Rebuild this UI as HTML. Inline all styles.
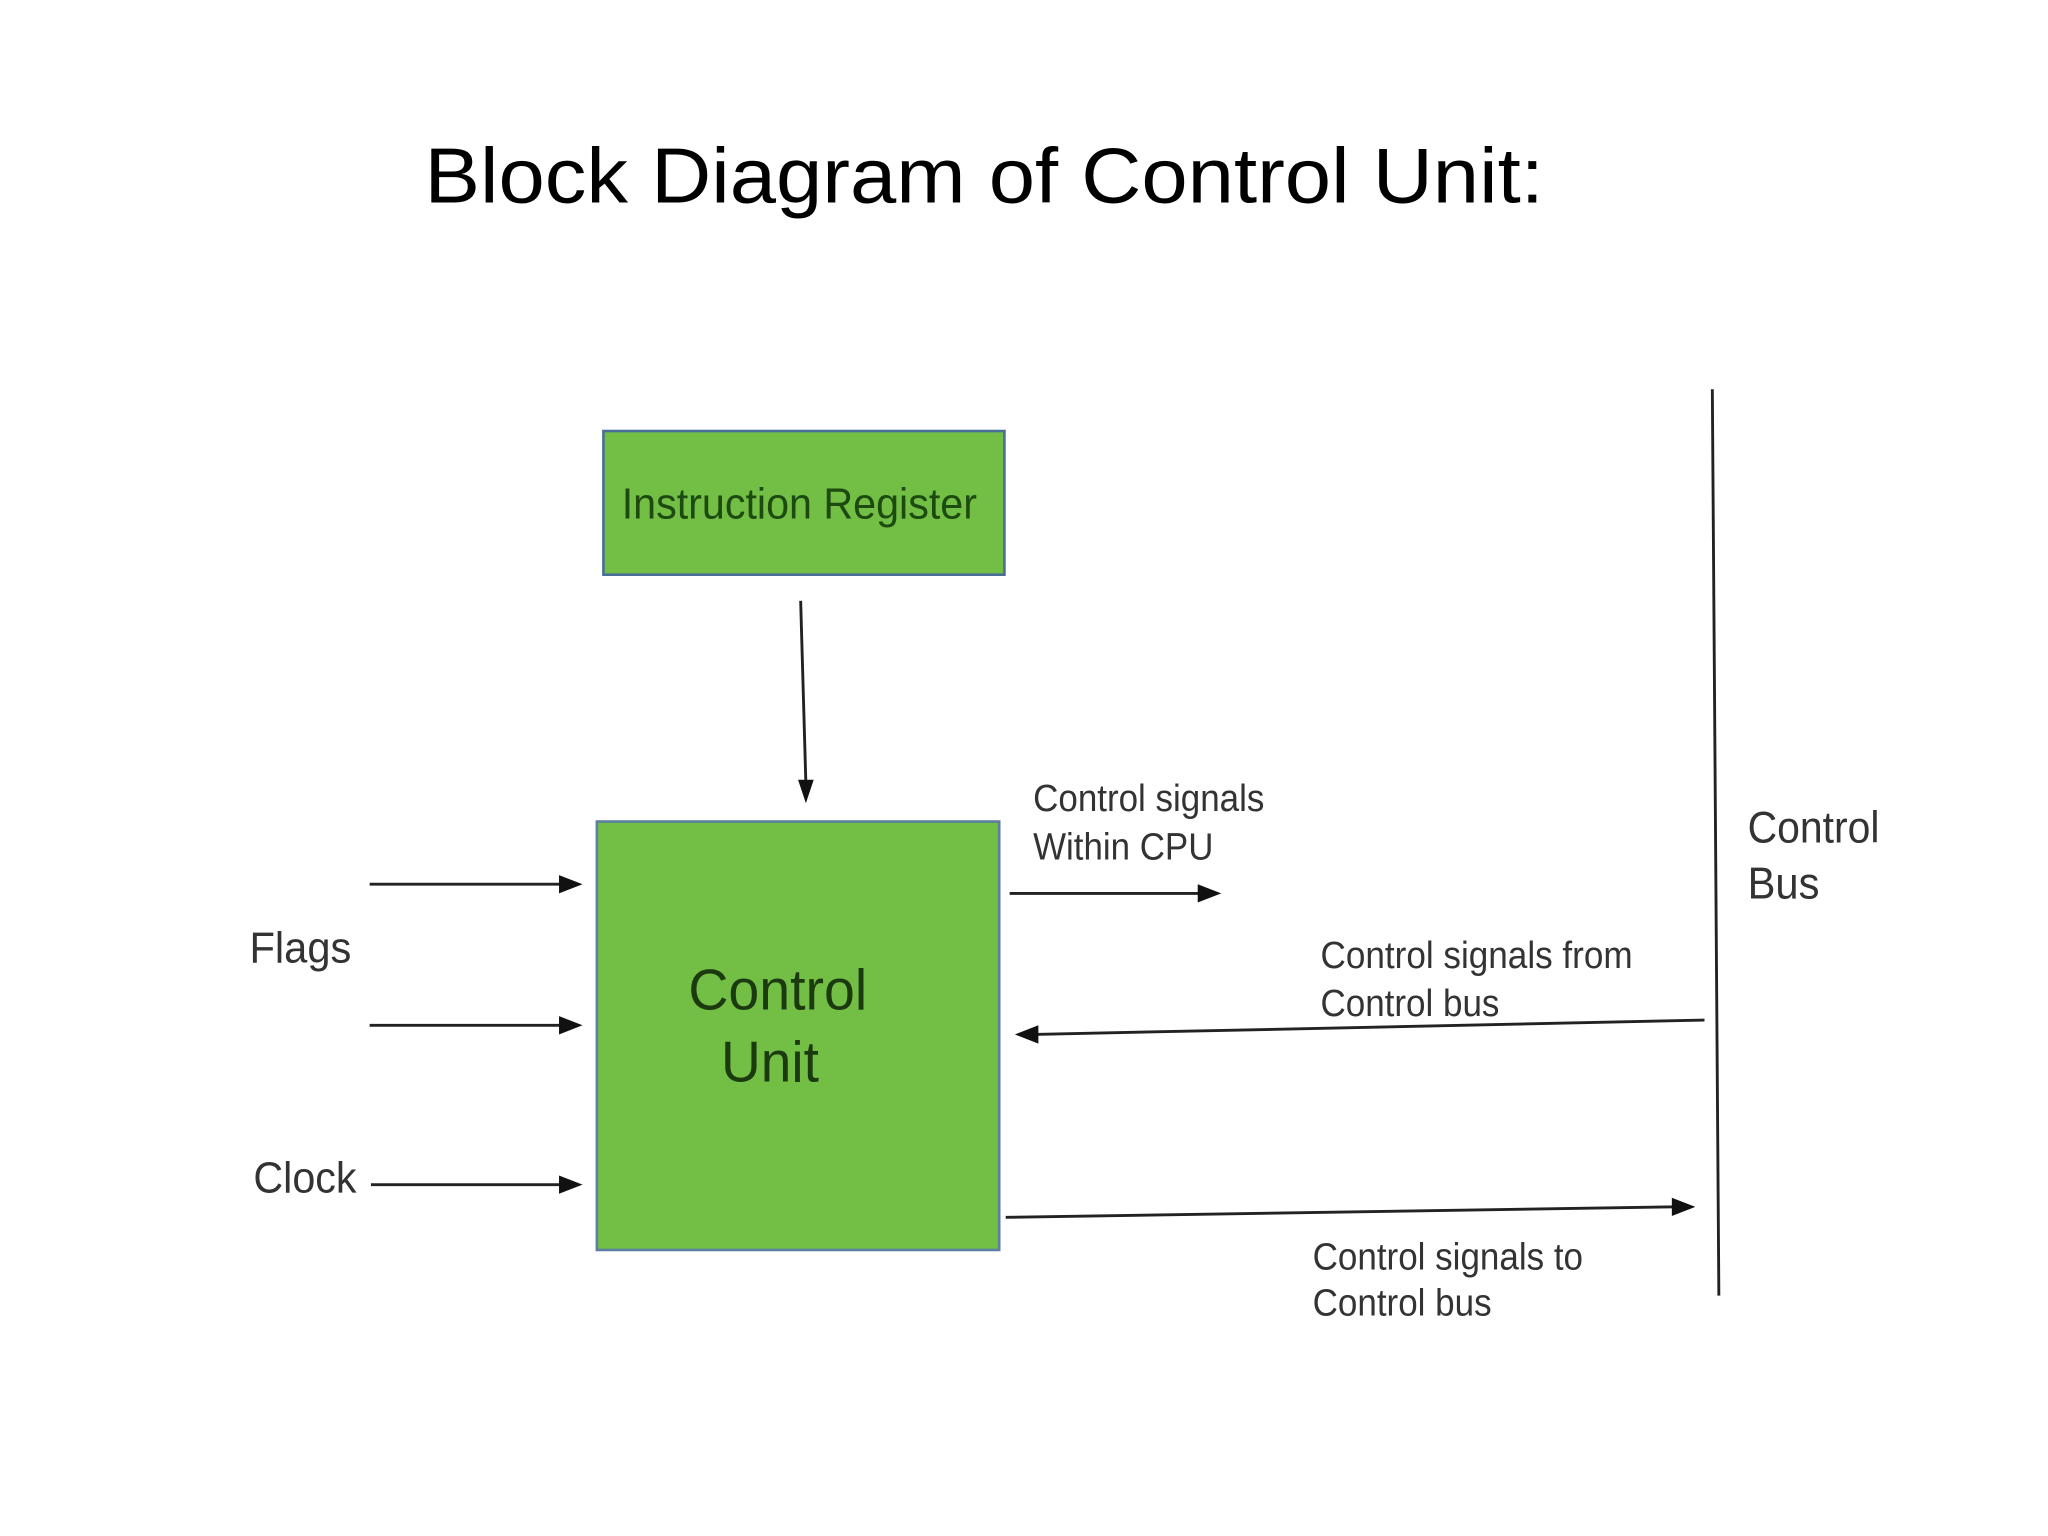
<!DOCTYPE html>
<html><head><meta charset="utf-8"><style>
html,body{margin:0;padding:0;background:#fff;width:2048px;height:1536px;overflow:hidden}
svg{display:block}
text{font-family:"Liberation Sans",sans-serif}
</style></head><body>
<svg width="2048" height="1536" viewBox="0 0 1568 1176" preserveAspectRatio="none" xmlns="http://www.w3.org/2000/svg">
<defs>
<marker id="a" viewBox="0 0 10 10" refX="9" refY="5" markerWidth="6" markerHeight="6" markerUnits="userSpaceOnUse" orient="auto">
</marker>
</defs>
<rect width="1568" height="1176" fill="#fff"/>
<text x="325" y="155" font-size="60" fill="#000" textLength="857" lengthAdjust="spacingAndGlyphs">Block Diagram of Control Unit:</text>

<rect x="462" y="330" width="307" height="110" fill="#73be44" stroke="#4a6f96" stroke-width="2"/>
<text x="476" y="397" font-size="33" fill="#1c4a10" textLength="272" lengthAdjust="spacingAndGlyphs">Instruction Register</text>

<rect x="457" y="629" width="308" height="328" fill="#73be44" stroke="#5a7fa0" stroke-width="2"/>
<text x="527" y="773" font-size="44" fill="#1c3a10" textLength="137" lengthAdjust="spacingAndGlyphs">Control</text>
<text x="552" y="828" font-size="44" fill="#1c3a10" textLength="75" lengthAdjust="spacingAndGlyphs">Unit</text>

<g stroke="#222" stroke-width="2.2" fill="none">
<line x1="613" y1="460" x2="617" y2="600"/>
<line x1="283" y1="677" x2="430" y2="677"/>
<line x1="283" y1="785" x2="430" y2="785"/>
<line x1="284" y1="907" x2="430" y2="907"/>
<line x1="773" y1="684" x2="920" y2="684"/>
<line x1="1305" y1="781" x2="792" y2="792"/>
<line x1="770" y1="932" x2="1283" y2="924"/>
<line x1="1311" y1="298" x2="1316" y2="992"/>
</g>
<g fill="#111">
<polygon points="611,597 623,597 617,615"/>
<polygon points="428,670 446,677 428,684"/>
<polygon points="428,778 446,785 428,792"/>
<polygon points="428,900 446,907 428,914"/>
<polygon points="917,677 935,684 917,691"/>
<polygon points="795,785 777,792 795,799"/>
<polygon points="1280,917 1298,924 1280,931"/>
</g>

<g fill="#333" font-size="29">
<text x="191" y="737" textLength="78" lengthAdjust="spacingAndGlyphs" font-size="33">Flags</text>
<text x="194" y="913" textLength="79" lengthAdjust="spacingAndGlyphs" font-size="33">Clock</text>
<text x="791" y="621" textLength="177" lengthAdjust="spacingAndGlyphs">Control signals</text>
<text x="791" y="658" textLength="138" lengthAdjust="spacingAndGlyphs">Within CPU</text>
<text x="1011" y="741" textLength="239" lengthAdjust="spacingAndGlyphs">Control signals from</text>
<text x="1011" y="778" textLength="137" lengthAdjust="spacingAndGlyphs">Control bus</text>
<text x="1005" y="972" textLength="207" lengthAdjust="spacingAndGlyphs">Control signals to</text>
<text x="1005" y="1007" textLength="137" lengthAdjust="spacingAndGlyphs">Control bus</text>
<text x="1338" y="645" textLength="101" lengthAdjust="spacingAndGlyphs" font-size="34">Control</text>
<text x="1338" y="688" textLength="55" lengthAdjust="spacingAndGlyphs" font-size="34">Bus</text>
</g>
</svg>
</body></html>
